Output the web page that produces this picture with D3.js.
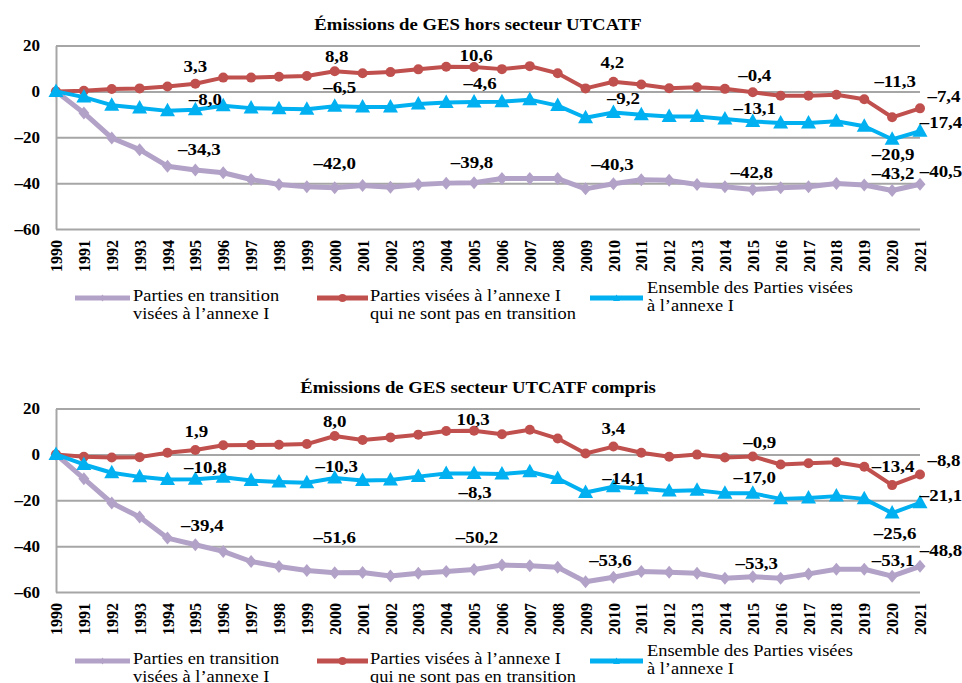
<!DOCTYPE html>
<html>
<head>
<meta charset="utf-8">
<script src="https://cdn.jsdelivr.net/npm/d3@7.9.0/dist/d3.min.js"></script>
<style>
  body { margin: 0; background: #fff; }
  svg text { font-family: "Liberation Serif", "Times New Roman", serif; }
</style>
</head>
<body>
<svg id="chart" width="962" height="683"></svg>
<script>
// --- data ---
const years = ["1990","1991","1992","1993","1994","1995","1996","1997","1998","1999",
  "2000","2001","2002","2003","2004","2005","2006","2007","2008","2009",
  "2010","2011","2012","2013","2014","2015","2016","2017","2018","2019","2020","2021"];
const yTicks = [-60, -40, -20, 0, 20];
const labelYears = ["1995", "2000", "2005", "2010", "2015", "2020", "2021"];

const titles = ["Émissions de GES hors secteur UTCATF", "Émissions de GES secteur UTCATF compris"];
const legendLabels = [
  ["Parties en transition", "visées à l’annexe I"],
  ["Parties visées à l’annexe I", "qui ne sont pas en transition"],
  ["Ensemble des Parties visées", "à l’annexe I"]
];

// hors UTCATF
const horsTransition = [0, -9.4, -20.3, -25.4, -32.6, -34.3, -35.5, -38.4, -40.6, -41.6, -42.0, -41.0, -41.8, -40.6, -40.0, -39.8,
  -38.0, -38.0, -38.0, -42.5, -40.3, -38.5, -38.8, -40.6, -41.6, -42.8, -42.0, -41.6, -40.2, -40.8, -43.2, -40.5];
const horsNonTransition = [0, 0.3, 1.0, 1.3, 2.1, 3.3, 6.0, 6.0, 6.4, 6.7, 8.8, 7.9, 8.4, 9.6, 10.7, 10.6,
  9.7, 11.0, 7.9, 1.3, 4.2, 3.0, 1.4, 1.8, 1.1, -0.4, -1.9, -1.9, -1.5, -3.4, -11.3, -7.4];
const horsEnsemble = [0, -2.5, -6.0, -7.2, -8.5, -8.0, -6.3, -7.3, -7.6, -7.8, -6.5, -6.8, -6.8, -5.5, -4.8, -4.6,
  -4.5, -3.6, -6.2, -11.5, -9.2, -10.2, -11.0, -11.0, -12.0, -13.1, -13.8, -13.8, -13.0, -15.2, -20.9, -17.4];

// UTCATF compris
const comprisTransition = [0, -10.6, -21.2, -27.3, -36.5, -39.4, -42.3, -46.7, -48.9, -50.6, -51.6, -51.5, -53.0, -51.8, -51.1, -50.2,
  -48.2, -48.6, -49.2, -55.5, -53.6, -51.1, -51.4, -51.8, -54.0, -53.3, -54.0, -52.1, -50.1, -50.1, -53.1, -48.8];
const comprisNonTransition = [0, -1.0, -1.4, -1.2, 0.7, 1.9, 4.0, 4.1, 4.2, 4.5, 8.0, 6.3, 7.4, 8.6, 10.2, 10.3,
  8.8, 10.7, 6.9, 0.4, 3.4, 0.7, -1.0, -0.1, -1.4, -0.9, -4.4, -3.9, -3.4, -5.4, -13.4, -8.8];
const comprisEnsemble = [0, -4.4, -8.0, -9.8, -11.0, -10.8, -10.0, -11.4, -12.0, -12.4, -10.3, -11.4, -11.2, -9.7, -8.3, -8.3,
  -8.6, -7.6, -10.5, -16.6, -14.1, -15.0, -16.0, -15.6, -17.0, -17.0, -19.4, -19.0, -18.2, -19.4, -25.6, -21.1];

// label nudges (dx, dy from the point) for each labelled year
const labelNudges = [
  [ // top panel: transition, non-transition, ensemble
    [[4,-21],[0,-25],[-2,-21],[-1,-20],[-1,-18],[1,-18],[21,-13]],
    [[0,-18],[2,-15],[2,-12],[-1,-20],[2,-17],[3,-36],[24,-12]],
    [[10,-11],[5,-19],[6,-19],[10,-15],[2,-14],[1,15],[21,-9]]
  ],
  [ // bottom panel
    [[7,-20],[0,-36],[3,-33],[-3,-17],[4,-14],[1,-16],[21,-16]],
    [[1,-19],[0,-15],[-1,-12],[0,-19],[7,-15],[1,-19],[24,-15]],
    [[10,-12],[2,-12],[1,18],[10,-9],[2,-16],[3,20],[21,-8]]
  ]
];

const colors = ["#B3A2C7", "#C0504D", "#00B0F0"];
const lineWidths = [5, 4, 4];
const serif = '"Liberation Serif", "Times New Roman", serif';

// --- helpers ---
const fmt = v => (v < 0 ? "–" : "") + Math.abs(v).toFixed(1).replace(".", ",");
const tickFmt = v => v === 0 ? "0" : (v < 0 ? "–" : "") + Math.abs(v);

// the source picture is a bit wider than tall, so text is stretched sideways
function putText(parent, px, py, str, size, sx, bold) {
  return parent.append("text")
    .attr("transform", `translate(${px},${py}) scale(${sx},1)`)
    .style("font-family", serif)
    .style("font-size", size + "px")
    .style("font-weight", bold ? "bold" : "normal")
    .text(str);
}

const diamond = { draw(ctx) { ctx.moveTo(0, -6.5); ctx.lineTo(5.5, 0); ctx.lineTo(0, 6.5); ctx.lineTo(-5.5, 0); ctx.closePath(); } };
const circle = { draw(ctx) { ctx.arc(0, 0, 5, 0, 2 * Math.PI); } };
const triangle = { draw(ctx) { ctx.moveTo(0, -8); ctx.lineTo(7.5, 5.5); ctx.lineTo(-7.5, 5.5); ctx.closePath(); } };
const smallDiamond = { draw(ctx) { ctx.moveTo(0, -3.5); ctx.lineTo(2.5, 0); ctx.lineTo(0, 3.5); ctx.lineTo(-2.5, 0); ctx.closePath(); } };
const smallCircle = { draw(ctx) { ctx.arc(0, 0, 4, 0, 2 * Math.PI); } };
const smallTriangle = { draw(ctx) { ctx.moveTo(0, -3.5); ctx.lineTo(3.5, 3); ctx.lineTo(-3.5, 3); ctx.closePath(); } };
const symbols = [diamond, circle, triangle];
const legendSymbols = [smallDiamond, smallCircle, smallTriangle];

const svg = d3.select("#chart");
const x = d3.scalePoint(years, [56, 920]);

function drawPanel(idx, off, seriesList) {
  const g = svg.append("g").attr("transform", `translate(0,${off})`);
  const y = d3.scaleLinear([-60, 20], [229, 45.5]);

  putText(g, 478, 30, titles[idx], 16, 1.17, true).attr("text-anchor", "middle");

  // y axis with gridlines
  const yAxis = g.append("g")
    .attr("transform", "translate(56,0)")
    .call(d3.axisLeft(y).tickValues(yTicks).tickFormat(tickFmt)
      .tickSize(-864).tickSizeOuter(0).tickPadding(16));
  yAxis.select(".domain").attr("stroke", "#a6a6a6").attr("stroke-width", 2);
  yAxis.selectAll(".tick line").attr("stroke", "#a6a6a6").attr("stroke-width", 2);
  yAxis.selectAll(".tick text")
    .attr("fill", "#000")
    .style("font-family", serif)
    .style("font-size", "17px").style("font-weight", "bold");

  // x axis with rotated years
  const xAxis = g.append("g")
    .attr("transform", "translate(0,229)")
    .call(d3.axisBottom(x).tickSize(0));
  xAxis.select(".domain").remove();
  xAxis.selectAll(".tick text")
    .attr("transform", "rotate(-90)")
    .attr("x", -11).attr("y", 0).attr("dy", "0.35em")
    .attr("fill", "#000")
    .style("text-anchor", "end")
    .style("font-family", serif)
    .style("font-size", "16px").style("font-weight", "bold");

  const line = d3.line().x((d, i) => x(years[i])).y(d => y(d));

  seriesList.forEach((vals, s) => {
    g.append("path")
      .datum(vals)
      .attr("d", line)
      .attr("fill", "none")
      .attr("stroke", colors[s])
      .attr("stroke-width", lineWidths[s])
      .attr("stroke-linejoin", "round");
    g.selectAll(null)
      .data(vals)
      .join("path")
      .attr("transform", (d, i) => `translate(${x(years[i])},${y(d)})`)
      .attr("d", d3.symbol(symbols[s]))
      .attr("fill", colors[s]);
  });

  // data labels
  seriesList.forEach((vals, s) => {
    labelYears.forEach((yr, k) => {
      const i = years.indexOf(yr);
      const [dx, dy] = labelNudges[idx][s][k];
      putText(g, x(yr) + dx, y(vals[i]) + dy, fmt(vals[i]), 17.5, 1.08, true)
        .attr("dy", "0.35em")
        .attr("text-anchor", "middle");
    });
  });

  // legend
  const legendPos = [[75, 130, 133, 0], [317, 368, 370, 0], [590, 643, 647, -8]];
  legendLabels.forEach((lines, s) => {
    const [x0, x1, tx, shift] = legendPos[s];
    const lg = g.append("g").attr("transform", "translate(0,298)");
    lg.append("line")
      .attr("x1", x0).attr("x2", x1)
      .attr("stroke", colors[s]).attr("stroke-width", 5);
    lg.append("path")
      .attr("transform", `translate(${(x0 + x1) / 2},0)`)
      .attr("d", d3.symbol(legendSymbols[s]))
      .attr("fill", colors[s]);
    lines.forEach((t, j) => {
      putText(lg, tx, shift + j * 18 + 3, t, 16, 1.15, false);
    });
  });
}

drawPanel(0, 0, [horsTransition, horsNonTransition, horsEnsemble]);
drawPanel(1, 363, [comprisTransition, comprisNonTransition, comprisEnsemble]);
</script>
</body>
</html>
